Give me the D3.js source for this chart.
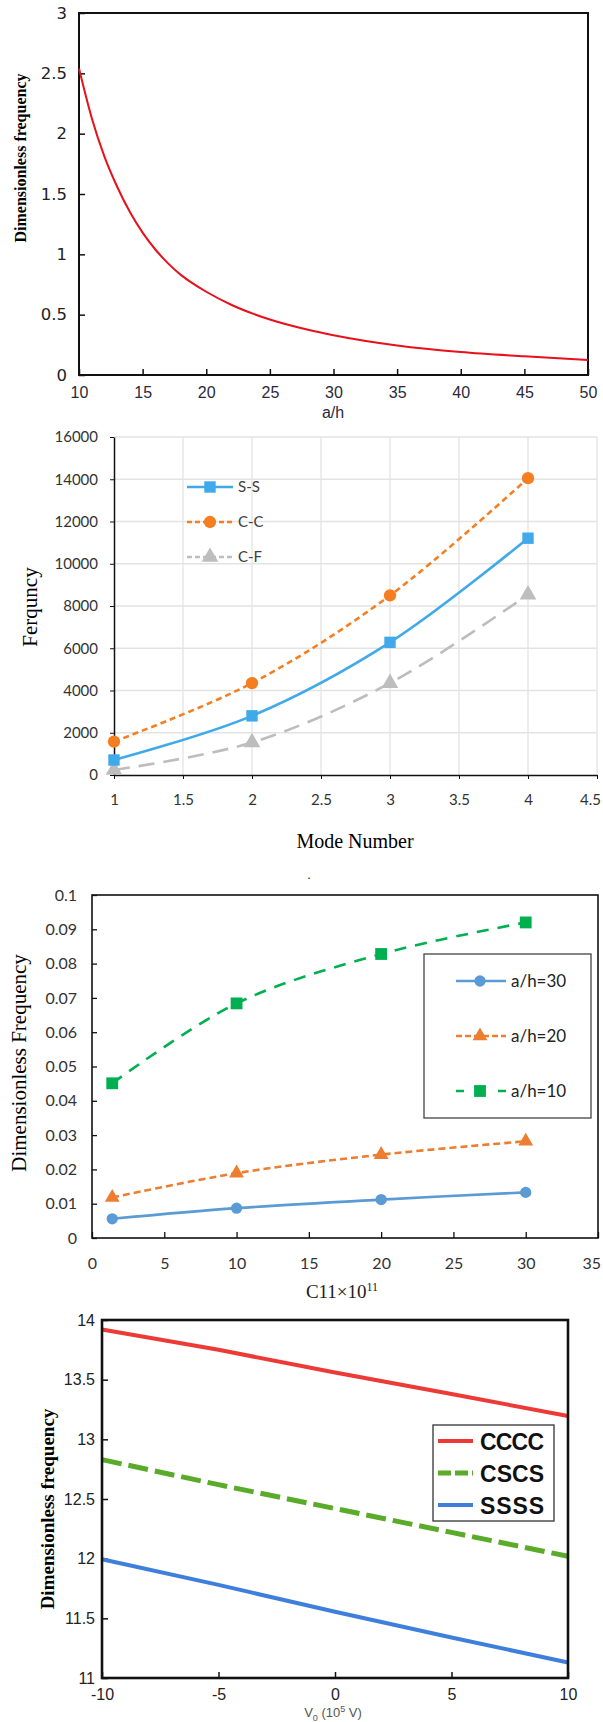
<!DOCTYPE html>
<html>
<head>
<meta charset="utf-8">
<script src="https://cdn.jsdelivr.net/npm/d3@7"></script>
<style>
  body { margin: 0; background: #fff; }
  svg { display: block; }
</style>
</head>
<body>
<div id="chart"></div>
<script>
// panel 1: frequency vs a/h
var ahValues = [10, 11, 12, 13, 14, 15, 16, 17, 18, 19, 20, 22, 25, 28, 30, 35, 40, 45, 50];
var ahFreq = [2.54, 2.13, 1.81, 1.56, 1.35, 1.18, 1.04, 0.925, 0.83, 0.755, 0.69, 0.58, 0.46, 0.375, 0.33, 0.245, 0.19, 0.155, 0.125];

// panel 2: frequency vs mode number
var modeNumbers = [1, 2, 3, 4];
var ssFreq = [710, 2800, 6280, 11210];
var ccFreq = [1580, 4350, 8500, 14050];
var cfFreq = [240, 1540, 4350, 8540];

// panel 3: dimensionless frequency vs C11
var c11Values = [1.4, 10, 20, 30];
var ah30 = [0.0056, 0.0087, 0.0112, 0.0133];
var ah20 = [0.0118, 0.0189, 0.0243, 0.0282];
var ah10 = [0.0451, 0.0684, 0.0828, 0.0920];

// panel 4: dimensionless frequency vs V0
var v0Values = [-10, -5, 0, 5, 10];
var cccc = [13.92, 13.75, 13.56, 13.38, 13.195];
var cscs = [12.83, 12.62, 12.42, 12.22, 12.02];
var ssss = [11.995, 11.78, 11.555, 11.34, 11.13];

var svg = d3.select("#chart").append("svg")
  .attr("width", 603)
  .attr("height", 1722);

function zip(xs, ys) {
  return xs.map((x, i) => ({x: x, y: ys[i]}));
}

// keep the last tick label inside the page
function keepInside(g) {
  g.selectAll(".tick text").each(function() {
    var box = this.getBBox();
    var m = this.parentNode.transform.baseVal.consolidate().matrix;
    var over = m.e + box.x + box.width - 601;
    if (over > 0) d3.select(this).attr("x", -over);
  });
}

// ---------- panel 1 ----------
var x1 = d3.scaleLinear().domain([10, 50]).range([79, 588]);
var y1 = d3.scaleLinear().domain([0, 3]).range([375, 13]);

svg.append("g")
  .attr("transform", "translate(0,375)")
  .call(d3.axisBottom(x1).tickValues(d3.range(10, 51, 5)).tickSizeInner(-6).tickSizeOuter(0).tickPadding(12))
  .call(g => g.select(".domain").remove())
  .call(g => g.selectAll("line").attr("stroke", "#111").attr("stroke-width", 1.5))
  .call(g => g.selectAll("text").attr("font-family", "Liberation Sans, Arial").attr("font-size", 16).attr("fill", "#2a2a3a"));

svg.append("g")
  .attr("transform", "translate(79,0)")
  .call(d3.axisLeft(y1).tickValues(d3.range(0, 3.01, 0.5)).tickSizeInner(-6).tickSizeOuter(0).tickPadding(12).tickFormat(d => String(d)))
  .call(g => g.select(".domain").remove())
  .call(g => g.selectAll("line").attr("stroke", "#111").attr("stroke-width", 1.5))
  .call(g => g.selectAll("text").attr("font-family", "DejaVu Sans").attr("font-size", 16.5).attr("fill", "#222"));

svg.append("rect")
  .attr("x", 79).attr("y", 13).attr("width", 588 - 79).attr("height", 375 - 13)
  .attr("fill", "none").attr("stroke", "#111").attr("stroke-width", 2);

svg.append("path")
  .datum(zip(ahValues, ahFreq))
  .attr("fill", "none")
  .attr("stroke", "#e8101a")
  .attr("stroke-width", 2)
  .attr("d", d3.line().x(d => x1(d.x)).y(d => y1(d.y)).curve(d3.curveMonotoneX));

svg.append("text")
  .attr("transform", "translate(26,158) rotate(-90)")
  .attr("text-anchor", "middle")
  .attr("font-family", "Liberation Serif, Times New Roman")
  .attr("font-weight", "bold")
  .attr("font-size", 16)
  .text("Dimensionless frequency");

svg.append("text")
  .attr("x", 333).attr("y", 418)
  .attr("text-anchor", "middle")
  .attr("font-family", "Liberation Sans, Arial")
  .attr("font-size", 16)
  .attr("fill", "#2a2a3a")
  .text("a/h");

// ---------- panel 2 ----------
var x2 = d3.scaleLinear().domain([1, 4.5]).range([114, 597]);
var y2 = d3.scaleLinear().domain([0, 16000]).range([775, 437]);

var grid2 = svg.append("g");
grid2.selectAll("line.h")
  .data(d3.range(2000, 16001, 2000))
  .enter().append("line")
  .attr("x1", 114).attr("x2", 597)
  .attr("y1", d => y2(d)).attr("y2", d => y2(d))
  .attr("stroke", "#e3e3e3").attr("stroke-width", 1.3);
grid2.selectAll("line.v")
  .data(d3.range(1.5, 4.51, 0.5))
  .enter().append("line")
  .attr("y1", 437).attr("y2", 775)
  .attr("x1", d => x2(d)).attr("x2", d => x2(d))
  .attr("stroke", "#e3e3e3").attr("stroke-width", 1.3);

svg.append("g")
  .attr("transform", "translate(0,775)")
  .call(d3.axisBottom(x2).tickValues(d3.range(1, 4.51, 0.5)).tickSizeInner(4).tickSizeOuter(0).tickPadding(15).tickFormat(d => String(d)))
  .call(g => g.select(".domain").attr("stroke", "#111").attr("stroke-width", 1.5))
  .call(g => g.selectAll("line").attr("stroke", "#111"))
  .call(g => g.selectAll("text").attr("font-family", "Lato").attr("font-size", 15).attr("fill", "#333"))
  .call(keepInside);

svg.append("g")
  .attr("transform", "translate(114,0)")
  .call(d3.axisLeft(y2).tickValues(d3.range(0, 16001, 2000)).tickSizeInner(4).tickSizeOuter(0).tickPadding(12).tickFormat(d => String(d)))
  .call(g => g.select(".domain").attr("stroke", "#111").attr("stroke-width", 1.5))
  .call(g => g.selectAll("line").attr("stroke", "#111"))
  .call(g => g.selectAll("text").attr("font-family", "Lato").attr("font-size", 15).attr("fill", "#333"));

var line2 = d3.line().x(d => x2(d.x)).y(d => y2(d.y)).curve(d3.curveCatmullRom.alpha(0.5));

var series2 = [
  {name: "S-S", values: ssFreq, color: "#3fa9ea", dash: null, shape: d3.symbolSquare, size: 130},
  {name: "C-C", values: ccFreq, color: "#f57f20", dash: "6,4", shape: d3.symbolCircle, size: 120},
  {name: "C-F", values: cfFreq, color: "#bdbdbd", dash: "16,9", shape: d3.symbolTriangle, size: 120}
];

series2.slice().reverse().forEach(function(s) {
  var pts = zip(modeNumbers, s.values);
  svg.append("path")
    .datum(pts)
    .attr("fill", "none")
    .attr("stroke", s.color)
    .attr("stroke-width", 2.6)
    .attr("stroke-dasharray", s.dash)
    .attr("d", line2);
  svg.selectAll(null)
    .data(pts)
    .enter().append("path")
    .attr("transform", d => `translate(${x2(d.x)},${y2(d.y)})`)
    .attr("d", d3.symbol().type(s.shape).size(s.size))
    .attr("fill", s.color);
});

series2.forEach(function(s, i) {
  var ly = 487 + i * 35;
  svg.append("line")
    .attr("x1", 187).attr("x2", 233)
    .attr("y1", ly).attr("y2", ly)
    .attr("stroke", s.color).attr("stroke-width", 2.6)
    .attr("stroke-dasharray", s.dash ? "5,3" : null);
  svg.append("path")
    .attr("transform", `translate(210,${ly})`)
    .attr("d", d3.symbol().type(s.shape).size(s.size))
    .attr("fill", s.color);
  svg.append("text")
    .attr("x", 238).attr("y", ly + 5)
    .attr("font-family", "Lato")
    .attr("font-size", 15)
    .attr("fill", "#404040")
    .text(s.name);
});

svg.append("text")
  .attr("transform", "translate(37,607) rotate(-90)")
  .attr("text-anchor", "middle")
  .attr("font-family", "Liberation Serif, Times New Roman")
  .attr("font-size", 21)
  .text("Ferquncy");

svg.append("text")
  .attr("x", 355).attr("y", 848)
  .attr("text-anchor", "middle")
  .attr("font-family", "Liberation Serif, Times New Roman")
  .attr("font-size", 20)
  .text("Mode Number");

// ---------- panel 3 ----------
var x3 = d3.scaleLinear().domain([0, 35]).range([92, 598]);
var y3 = d3.scaleLinear().domain([0, 0.1]).range([1238, 895]);

svg.append("text")
  .attr("x", 309).attr("y", 879)
  .attr("text-anchor", "middle")
  .attr("font-size", 12)
  .text(".");

svg.append("g")
  .attr("transform", "translate(0,1238)")
  .call(d3.axisBottom(x3).tickValues(d3.range(0, 36, 5)).tickSizeInner(-6).tickSizeOuter(0).tickPadding(20))
  .call(g => g.select(".domain").remove())
  .call(g => g.selectAll("line").attr("stroke", "#111").attr("stroke-width", 1.3))
  .call(g => g.selectAll("text").attr("font-family", "Lato").attr("font-size", 16).attr("fill", "#333"))
  .call(keepInside);

svg.append("g")
  .attr("transform", "translate(92,0)")
  .call(d3.axisLeft(y3).tickValues(d3.range(0, 0.1001, 0.01)).tickSizeInner(-5).tickSizeOuter(0).tickPadding(15).tickFormat(d3.format("~g")))
  .call(g => g.select(".domain").remove())
  .call(g => g.selectAll("line").attr("stroke", "#111").attr("stroke-width", 1.3))
  .call(g => g.selectAll("text").attr("font-family", "Lato").attr("font-size", 16).attr("fill", "#333"));

svg.append("rect")
  .attr("x", 92).attr("y", 895).attr("width", 598 - 92).attr("height", 1238 - 895)
  .attr("fill", "none").attr("stroke", "#111").attr("stroke-width", 1.6);

var line3 = d3.line().x(d => x3(d.x)).y(d => y3(d.y)).curve(d3.curveCatmullRom.alpha(0.5));

var series3 = [
  {name: "a/h=30", values: ah30, color: "#5b9bd5", dash: null, shape: d3.symbolCircle, size: 100},
  {name: "a/h=20", values: ah20, color: "#ed7d31", dash: "7,4", shape: d3.symbolTriangle, size: 95},
  {name: "a/h=10", values: ah10, color: "#00b050", dash: "12,9", shape: d3.symbolSquare, size: 140}
];

series3.forEach(function(s) {
  var pts = zip(c11Values, s.values);
  svg.append("path")
    .datum(pts)
    .attr("fill", "none")
    .attr("stroke", s.color)
    .attr("stroke-width", 2.6)
    .attr("stroke-dasharray", s.dash)
    .attr("d", line3);
  svg.selectAll(null)
    .data(pts)
    .enter().append("path")
    .attr("transform", d => `translate(${x3(d.x)},${y3(d.y)})`)
    .attr("d", d3.symbol().type(s.shape).size(s.size))
    .attr("fill", s.color);
});

svg.append("rect")
  .attr("x", 424).attr("y", 954).attr("width", 167).attr("height", 164)
  .attr("fill", "#fff").attr("stroke", "#444").attr("stroke-width", 1.3);

series3.forEach(function(s, i) {
  var ly = 981 + i * 55;
  svg.append("line")
    .attr("x1", 456).attr("x2", 506)
    .attr("y1", ly).attr("y2", ly)
    .attr("stroke", s.color).attr("stroke-width", 2.6)
    .attr("stroke-dasharray", s.dash ? (i === 2 ? "8,13" : "6,3") : null);
  svg.append("path")
    .attr("transform", `translate(480,${ly})`)
    .attr("d", d3.symbol().type(s.shape).size(s.size))
    .attr("fill", s.color);
  svg.append("text")
    .attr("x", 511).attr("y", ly + 6)
    .attr("font-family", "Lato")
    .attr("font-size", 17)
    .attr("fill", "#222")
    .text(s.name);
});

svg.append("text")
  .attr("transform", "translate(26,1063) rotate(-90)")
  .attr("text-anchor", "middle")
  .attr("font-family", "Liberation Serif, Times New Roman")
  .attr("font-size", 21)
  .text("Dimensionless Frequency");

var c11Label = svg.append("text")
  .attr("x", 342).attr("y", 1298)
  .attr("text-anchor", "middle")
  .attr("font-family", "Liberation Serif, Times New Roman")
  .attr("font-size", 19)
  .attr("fill", "#222");
c11Label.append("tspan").text("C11×10");
c11Label.append("tspan").attr("dy", -7).attr("font-size", 12).text("11");

// ---------- panel 4 ----------
var x4 = d3.scaleLinear().domain([-10, 10]).range([102, 568]);
var y4 = d3.scaleLinear().domain([11, 14]).range([1678, 1320]);

svg.append("g")
  .attr("transform", "translate(0,1678)")
  .call(d3.axisBottom(x4).tickValues(d3.range(-10, 11, 5)).tickSizeInner(-6).tickSizeOuter(0).tickPadding(11).tickFormat(d => String(d)))
  .call(g => g.select(".domain").remove())
  .call(g => g.selectAll("line").attr("stroke", "#111").attr("stroke-width", 1.5))
  .call(g => g.selectAll("text").attr("font-family", "Liberation Sans, Arial").attr("font-size", 16).attr("fill", "#222"));

svg.append("g")
  .attr("transform", "translate(102,0)")
  .call(d3.axisLeft(y4).tickValues(d3.range(11, 14.01, 0.5)).tickSizeInner(-6).tickSizeOuter(0).tickPadding(7).tickFormat(d => String(d)))
  .call(g => g.select(".domain").remove())
  .call(g => g.selectAll("line").attr("stroke", "#111").attr("stroke-width", 1.5))
  .call(g => g.selectAll("text").attr("font-family", "Liberation Sans, Arial").attr("font-size", 16).attr("fill", "#222"));

var line4 = d3.line().x(d => x4(d.x)).y(d => y4(d.y));

var series4 = [
  {name: "CCCC", values: cccc, color: "#ec3b36", dash: null},
  {name: "CSCS", values: cscs, color: "#5aab2a", dash: "20,7"},
  {name: "SSSS", values: ssss, color: "#3f7fdc", dash: null}
];

series4.forEach(function(s) {
  svg.append("path")
    .datum(zip(v0Values, s.values))
    .attr("fill", "none")
    .attr("stroke", s.color)
    .attr("stroke-width", s.dash ? 5 : 4)
    .attr("stroke-dasharray", s.dash)
    .attr("d", line4);
});

svg.append("rect")
  .attr("x", 102).attr("y", 1320).attr("width", 568 - 102).attr("height", 1678 - 1320)
  .attr("fill", "none").attr("stroke", "#111").attr("stroke-width", 2.6);

svg.append("rect")
  .attr("x", 433).attr("y", 1425).attr("width", 121).attr("height", 96)
  .attr("fill", "#fff").attr("stroke", "#333").attr("stroke-width", 1.3);

series4.forEach(function(s, i) {
  var ly = 1441 + i * 32;
  svg.append("line")
    .attr("x1", 438).attr("x2", 473)
    .attr("y1", ly).attr("y2", ly)
    .attr("stroke", s.color).attr("stroke-width", s.dash ? 5 : 4)
    .attr("stroke-dasharray", s.dash ? "13,4" : null);
  svg.append("text")
    .attr("x", 480).attr("y", ly + 9)
    .attr("font-family", "Liberation Sans, Arial")
    .attr("font-weight", "bold")
    .attr("font-size", 23)
    .attr("textLength", 64)
    .attr("fill", "#111")
    .text(s.name);
});

svg.append("text")
  .attr("transform", "translate(54,1509) rotate(-90)")
  .attr("text-anchor", "middle")
  .attr("font-family", "Liberation Serif, Times New Roman")
  .attr("font-weight", "bold")
  .attr("font-size", 19)
  .text("Dimensionless frequency");

var v0Label = svg.append("text")
  .attr("x", 333).attr("y", 1717)
  .attr("text-anchor", "middle")
  .attr("font-family", "Liberation Sans, Arial")
  .attr("font-size", 13)
  .attr("fill", "#555");
v0Label.append("tspan").text("V");
v0Label.append("tspan").attr("dy", 4).attr("font-size", 9).text("0");
v0Label.append("tspan").attr("dy", -4).text(" (10");
v0Label.append("tspan").attr("dy", -5).attr("font-size", 9).text("5");
v0Label.append("tspan").attr("dy", 5).text(" V)");
</script>
</body>
</html>
